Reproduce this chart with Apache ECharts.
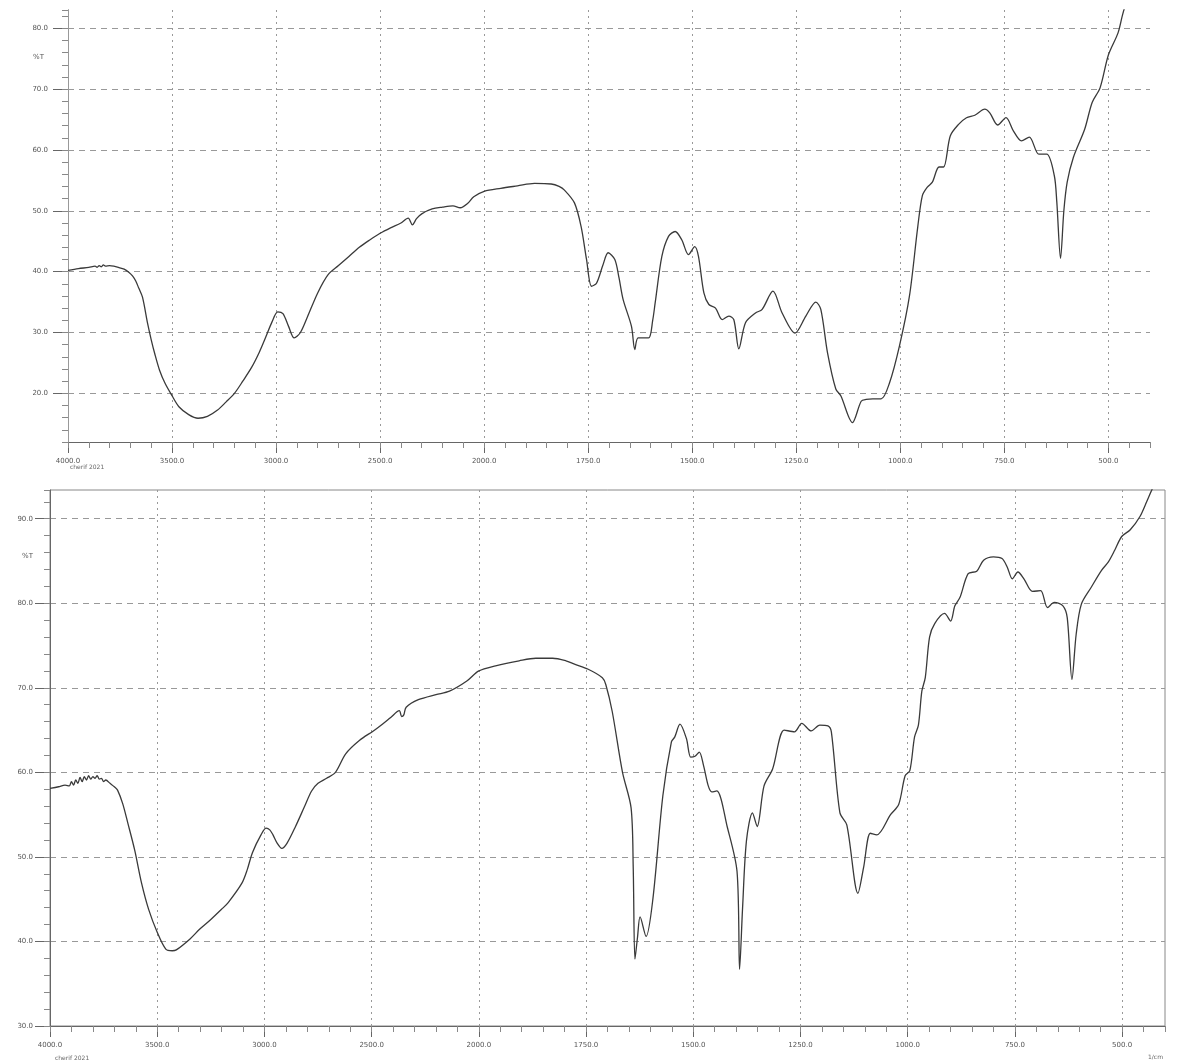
<!DOCTYPE html>
<html>
<head>
<meta charset="utf-8">
<script src="https://cdn.jsdelivr.net/npm/echarts@6/dist/echarts.min.js"></script>
<style>
  html, body { margin: 0; padding: 0; background: #fff; }
  #ir { width: 1177px; height: 1064px; }
</style>
</head>
<body>
<div id="ir"></div>
<script>
// upper spectrum (wavenumber 1/cm, %T)
var topWave = [4000, 3950, 3900, 3870, 3860, 3850, 3840, 3830, 3820, 3800, 3780, 3758, 3730, 3708, 3690, 3675, 3660, 3642,
  3617, 3600, 3583, 3560, 3533, 3500, 3467, 3420, 3375, 3330, 3283, 3240, 3200, 3160, 3117, 3080, 3050, 3020,
  2992, 2967, 2940, 2913, 2883, 2850, 2800, 2750, 2700, 2650, 2600, 2550, 2500, 2450, 2400, 2365, 2345, 2325,
  2300, 2250, 2200, 2150, 2115, 2080, 2050, 2000, 1960, 1920, 1879, 1839, 1820, 1807, 1783, 1767, 1754, 1742,
  1730, 1715, 1702, 1686, 1676, 1666, 1646, 1638, 1630, 1605, 1595, 1589, 1573, 1557, 1541, 1525, 1509, 1494,
  1485, 1472, 1460, 1444, 1428, 1412, 1400, 1388, 1372, 1348, 1332, 1306, 1284, 1253, 1227, 1203, 1191, 1175,
  1155, 1143, 1115, 1094, 1082, 1066, 1046, 1026, 1002, 978, 958, 947, 935, 923, 907, 896, 880, 860, 841, 821,
  797, 785, 766, 746, 728, 709, 690, 667, 648, 630, 624, 615, 607, 599, 584, 557, 539, 520, 500, 477, 466, 450];
var topTrans = [40.2, 40.5, 40.7, 40.9, 40.7, 41.0, 40.8, 41.1, 40.9, 41.0, 40.9, 40.7, 40.4, 39.9, 39.3, 38.5, 37.3, 35.8,
  31.4, 28.8, 26.5, 23.8, 21.6, 19.6, 17.8, 16.5, 15.9, 16.2, 17.2, 18.6, 20.0, 22.0, 24.3, 26.8, 29.2, 31.7,
  33.4, 33.1, 31.0, 29.1, 30.0, 32.5, 36.5, 39.5, 41.0, 42.5, 44.0, 45.2, 46.3, 47.2, 48.0, 48.8, 47.7, 48.7,
  49.5, 50.3, 50.6, 50.8, 50.5, 51.2, 52.3, 53.2, 53.7, 54.1, 54.5, 54.4, 54.0, 53.4, 51.3, 47.4, 42.0, 37.6,
  38.1, 41.0, 43.1, 42.0, 39.0, 35.4, 31.0, 27.2, 29.1, 29.1, 32.0, 34.9, 42.5, 45.8, 46.6, 45.2, 42.8, 44.1,
  42.5, 36.5, 34.6, 34.0, 32.1, 32.7, 32.1, 27.3, 31.6, 33.2, 33.8, 36.8, 33.2, 29.9, 32.7, 35.0, 33.8, 26.7,
  20.7, 19.6, 15.2, 18.7, 19.0, 19.1, 19.1, 21.7, 27.8, 36.0, 47.4, 52.5, 53.9, 54.7, 57.2, 57.2, 62.3, 64.2, 65.3, 65.7,
  66.7, 66.1, 64.1, 65.3, 63.1, 61.5, 62.1, 59.3, 59.3, 55.8, 51.5, 42.2, 50.0, 54.7, 58.8, 63.4, 67.8, 70.2, 75.6, 79.2, 82.2, 86.0];

// lower spectrum
var botWave = [4000, 3960, 3930, 3910, 3900, 3890, 3880, 3870, 3860, 3850, 3840, 3830, 3820, 3810, 3800, 3790, 3780, 3770,
  3760, 3750, 3740, 3720, 3700, 3685, 3661, 3637, 3605, 3573, 3540, 3500, 3460, 3430, 3411, 3347, 3300, 3250,
  3200, 3169, 3105, 3080, 3056, 3016, 2992, 2975, 2960, 2940, 2919, 2895, 2855, 2814, 2780, 2750, 2710, 2669,
  2621, 2556, 2492, 2450, 2411, 2371, 2360, 2350, 2339, 2282, 2200, 2137, 2056, 2000, 1961, 1906, 1867, 1828,
  1797, 1777, 1745, 1712, 1704, 1689, 1665, 1645, 1640, 1636, 1630, 1624, 1610, 1594, 1571, 1551, 1543, 1531,
  1516, 1506, 1496, 1486, 1476, 1465, 1457, 1445, 1421, 1398, 1392, 1385, 1376, 1362, 1351, 1335, 1315, 1288,
  1264, 1247, 1225, 1205, 1186, 1178, 1158, 1142, 1116, 1103, 1087, 1072, 1040, 1021, 1006, 995, 984, 975, 967,
  959, 949, 937, 914, 900, 890, 878, 859, 839, 823, 800, 780, 768, 756, 743, 729, 709, 690, 674, 658, 638, 628,
  617, 607, 595, 572, 548, 532, 517, 501, 481, 458, 442, 430, 410];
var botTrans = [58.1, 58.3, 58.5, 58.4, 58.9, 58.5, 59.1, 58.7, 59.4, 58.9, 59.5, 59.1, 59.6, 59.2, 59.5, 59.3, 59.6, 59.2,
  59.3, 58.9, 59.1, 58.7, 58.3, 57.9, 56.3, 54.0, 50.8, 46.9, 43.8, 41.1, 39.1, 38.9, 39.0, 40.3, 41.5, 42.6,
  43.8, 44.6, 46.9, 48.5, 50.5, 52.6, 53.4, 53.2, 52.6, 51.6, 51.0, 51.6, 53.6, 55.9, 57.8, 58.7, 59.3, 60.0,
  62.2, 63.8, 64.9, 65.7, 66.5, 67.3, 66.6, 66.8, 67.7, 68.6, 69.2, 69.6, 70.8, 72.0, 72.6, 73.2, 73.5, 73.5,
  73.2, 72.8, 72.2, 71.2, 70.4, 67.2, 60.0, 55.8, 48.7, 37.9, 40.5, 42.9, 40.6, 45.1, 57.2, 63.6, 64.2, 65.7,
  64.0, 61.8, 61.9, 62.4, 60.8, 58.4, 57.7, 57.8, 53.6, 48.3, 36.7, 44.0, 51.9, 55.2, 53.6, 58.4, 60.4, 65.0,
  64.8, 65.8, 64.9, 65.6, 65.5, 64.8, 55.2, 53.8, 45.7, 48.7, 52.8, 52.6, 55.0, 56.2, 59.6, 60.2, 64.2, 65.6, 69.6,
  71.2, 76.0, 77.6, 78.8, 77.9, 79.7, 80.7, 83.5, 83.8, 85.1, 85.5, 85.3, 84.3, 82.9, 83.7, 82.9, 81.4, 81.5, 79.5, 80.1, 79.7, 78.3,
  71.0, 76.4, 79.9, 81.9, 83.9, 84.9, 86.3, 87.9, 88.7, 90.3, 92.1, 93.5, 95.5];

var topRange = [12, 83];
var botRange = [30, 93.4];

// the instrument plots 4000-2000 at half the scale of 2000-400
function toAxis(w) {
    return w >= 2000 ? (4000 - w) / 500 : 4 + (2000 - w) / 250;
}
function fromAxis(t) {
    return t <= 4 ? 4000 - t * 500 : 2000 - (t - 4) * 250;
}
function pairs(ws, ts) {
    return ws.map(function (w, i) { return [toAxis(w), ts[i]]; });
}

var labelStyle = { fontSize: 7, color: '#555', fontFamily: 'DejaVu Sans' };
var lineCol = '#666';

function mainX(grid, margin) {
    return {
        type: 'value', gridIndex: grid, position: 'bottom', min: 0, max: toAxis(400), interval: 1,
        axisLine: { show: true, onZero: false, lineStyle: { color: lineCol, width: 1 } },
        axisTick: { show: true, length: 11, lineStyle: { color: lineCol } },
        axisLabel: Object.assign({
            margin: margin, showMaxLabel: false,
            formatter: function (v) { return fromAxis(v).toFixed(1); }
        }, labelStyle),
        splitLine: { show: true, showMaxLine: false, showMinLine: false, lineStyle: { color: '#999', type: [2, 4], width: 1 } }
    };
}
function minorX(grid) {
    return {
        type: 'value', gridIndex: grid, position: 'bottom', min: 0, max: toAxis(400), interval: 0.2,
        axisLine: { show: false },
        axisTick: { show: true, length: 6, lineStyle: { color: '#888' } },
        axisLabel: { show: false }, splitLine: { show: false }
    };
}
function mainY(grid, range, margin, hideMin) {
    return {
        type: 'value', gridIndex: grid, position: 'left', min: range[0], max: range[1], splitNumber: 7,
        axisLine: { show: true, onZero: false, lineStyle: { color: lineCol, width: 1 } },
        axisTick: { show: true, length: 15, lineStyle: { color: lineCol } },
        axisLabel: Object.assign({
            margin: margin, showMinLabel: !hideMin, showMaxLabel: false,
            formatter: function (v) { return v.toFixed(1); }
        }, labelStyle),
        splitLine: { show: true, showMinLine: false, showMaxLine: false, lineStyle: { color: '#999', type: [6, 5], width: 1 } }
    };
}
function minorY(grid, range) {
    return {
        type: 'value', gridIndex: grid, position: 'left', min: range[0], max: range[1], interval: 2,
        axisLine: { show: false },
        axisTick: { show: true, length: 6, lineStyle: { color: '#888' } },
        axisLabel: { show: false }, splitLine: { show: false }
    };
}

var chartDom = document.getElementById('ir');
var myChart = echarts.init(chartDom, null, { renderer: 'canvas' });

var option = {
    animation: false,
    backgroundColor: '#fff',
    grid: [
        { left: 68, right: 27, top: 10, bottom: 622 },
        { left: 50, right: 12, top: 490, bottom: 38, show: true, borderColor: '#888', borderWidth: 1 }
    ],
    xAxis: [mainX(0, 16), minorX(0), mainX(1, 16), minorX(1)],
    yAxis: [
        mainY(0, topRange, 20, true), minorY(0, topRange),
        mainY(1, botRange, 17, false), minorY(1, botRange),
        {
            type: 'value', gridIndex: 0, position: 'right', min: topRange[0], max: topRange[1],
            axisLine: { show: true, lineStyle: { color: '#999' } },
            axisTick: { show: false }, axisLabel: { show: false }, splitLine: { show: false }
        }
    ],
    graphic: [
        { type: 'text', left: 33, top: 54, style: { text: '%T', fontSize: 7, fill: '#555', fontFamily: 'DejaVu Sans' } },
        { type: 'text', left: 22, top: 553, style: { text: '%T', fontSize: 7, fill: '#555', fontFamily: 'DejaVu Sans' } },
        { type: 'text', left: 70, top: 464, style: { text: 'cherif 2021', fontSize: 6, fill: '#666', fontFamily: 'DejaVu Sans' } },
        { type: 'text', left: 55, top: 1055, style: { text: 'cherif 2021', fontSize: 6, fill: '#666', fontFamily: 'DejaVu Sans' } },
        { type: 'text', left: 1148, top: 1054, style: { text: '1/cm', fontSize: 6, fill: '#666', fontFamily: 'DejaVu Sans' } }
    ],
    series: [
        {
            type: 'line', xAxisIndex: 0, yAxisIndex: 0, data: pairs(topWave, topTrans),
            showSymbol: false, smooth: 0.3, clip: true,
            lineStyle: { color: '#3a3a3a', width: 1.3 }
        },
        {
            type: 'line', xAxisIndex: 2, yAxisIndex: 2, data: pairs(botWave, botTrans),
            showSymbol: false, smooth: 0.3, clip: true,
            lineStyle: { color: '#3a3a3a', width: 1.3 }
        }
    ]
};
option && myChart.setOption(option);
</script>
</body>
</html>
